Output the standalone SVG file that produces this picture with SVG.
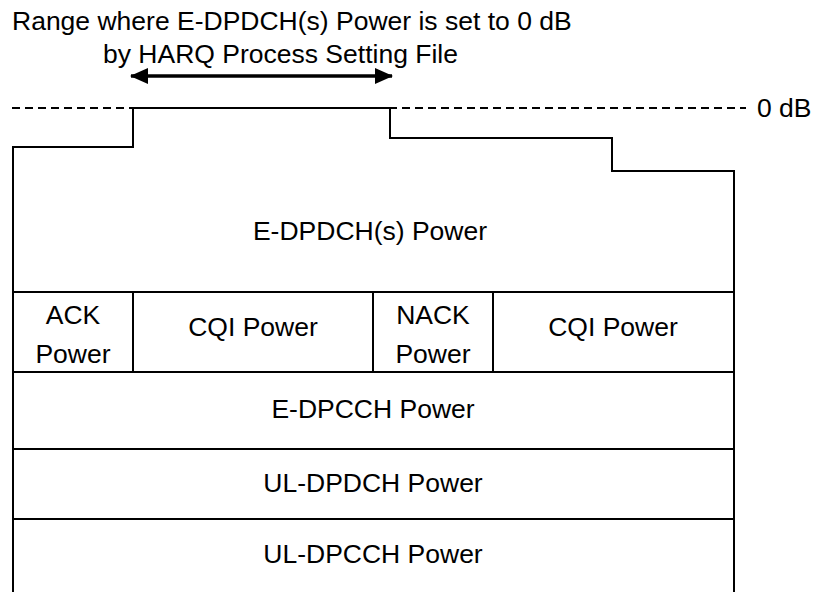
<svg xmlns="http://www.w3.org/2000/svg" width="820" height="592" viewBox="0 0 820 592">
<style>
text{font-family:"Liberation Sans",Arial,Helvetica,sans-serif;font-size:26.5px;fill:#000}
.c{text-anchor:middle}
.ln{stroke:#000;stroke-width:2;fill:none}
.dash{stroke:#000;stroke-width:2;fill:none;stroke-dasharray:8 5}
</style>
<defs>
<marker id="ah" viewBox="0 0 18 16" refX="17" refY="8" markerWidth="18" markerHeight="16" markerUnits="userSpaceOnUse" orient="auto-start-reverse">
<path d="M0,0 L18,8 L0,16 Z" fill="#000"/>
</marker>
</defs>
<rect width="820" height="592" fill="#fff"/>
<g id="title">
<text x="12" y="30">Range where E-DPDCH(s) Power is set to 0 dB</text>
<text x="103" y="63">by HARQ Process Setting File</text>
</g>
<g id="connectors">
<line x1="131" y1="76" x2="392" y2="76" stroke="#000" stroke-width="3.5" marker-start="url(#ah)" marker-end="url(#ah)"/>
<line class="dash" x1="12" y1="108" x2="746" y2="108"/>
</g>
<g id="zero-db"><text x="757" y="117">0 dB</text></g>
<g id="outline"><path class="ln" d="M13,592 V147 H133 V108 H390 V138 H612 V171 H734 V592"/></g>
<g id="edpdch"><line class="ln" x1="13" y1="292" x2="734" y2="292"/><text class="c" x="370" y="240">E-DPDCH(s) Power</text></g>
<g id="ack"><line class="ln" x1="133" y1="292" x2="133" y2="372"/><text class="c" x="73" y="324">ACK</text><text class="c" x="73" y="363">Power</text></g>
<g id="cqi1"><text class="c" x="253" y="336">CQI Power</text><line class="ln" x1="373" y1="292" x2="373" y2="372"/></g>
<g id="nack"><line class="ln" x1="493" y1="292" x2="493" y2="372"/><text class="c" x="433" y="324">NACK</text><text class="c" x="433" y="363">Power</text></g>
<g id="cqi2"><text class="c" x="613" y="336">CQI Power</text></g>
<g id="edpcch"><line class="ln" x1="13" y1="372" x2="734" y2="372"/><text class="c" x="373" y="418">E-DPCCH Power</text></g>
<g id="uldpdch"><line class="ln" x1="13" y1="449" x2="734" y2="449"/><text class="c" x="373" y="492">UL-DPDCH Power</text></g>
<g id="uldpcch"><line class="ln" x1="13" y1="519" x2="734" y2="519"/><text class="c" x="373" y="563">UL-DPCCH Power</text></g>
</svg>
